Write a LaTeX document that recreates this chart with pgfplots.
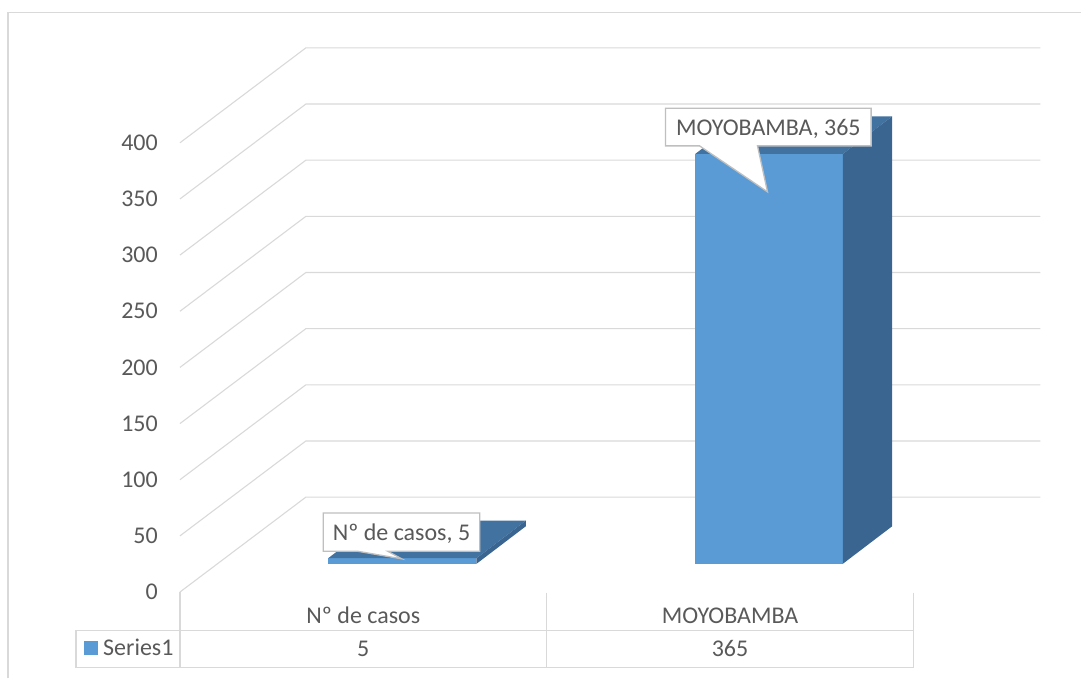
\documentclass[border=0pt]{standalone}
\usepackage{pgfplots}
\pgfplotsset{compat=1.18}
\usepackage{fontspec}
\setmainfont{Carlito}
\definecolor{gridc}{HTML}{D9D9D9}
\definecolor{txt}{HTML}{595959}
\definecolor{frontc}{HTML}{5B9BD5}
\definecolor{topc}{HTML}{4172A0}
\definecolor{sidec}{HTML}{3A6590}
\definecolor{callc}{HTML}{BFBFBF}
\newcommand{\fs}{\fontsize{24}{29}\selectfont}
\begin{document}
\begin{tikzpicture}[font=\fs]
% ---------- value axis: walls, gridlines, bars ----------
\begin{axis}[
  at={(0,0)}, anchor=south west,
  width=1082pt, height=679pt, scale only axis,
  xmin=0, xmax=1082, ymin=-76.957, ymax=527.135,
  axis line style={draw=none},
  xtick=\empty, ytick={0,50,...,400},
  major tick length=0pt,
  /pgf/number format/assume math mode=true,
  yticklabel style={font=\fs, text=txt, anchor=east, inner sep=0pt, xshift=158pt},
  clip=false,
]
\pgfplotsinvokeforeach{0,50,...,400}{
  \draw[gridc, line width=1.1pt] (axis cs:180,#1) -- (axis cs:306,{#1+84.5}) -- (axis cs:1041,{#1+84.5});
}
% bar 1: Nº de casos = 5
\addplot[fill=frontc, draw=none, mark=none] table[row sep=\\, x expr=\thisrow{x}+49.4*\thisrow{d}, y expr=\thisrow{v}+25.09+33.45*\thisrow{d}]
  {x v d\\ 328.3 0 0\\ 476.7 0 0\\ 476.7 5 0\\ 328.3 5 0\\} -- cycle;
\addplot[fill=topc, draw=none, mark=none] table[row sep=\\, x expr=\thisrow{x}+49.4*\thisrow{d}, y expr=\thisrow{v}+25.09+33.45*\thisrow{d}]
  {x v d\\ 328.3 5 0\\ 476.7 5 0\\ 476.7 5 1\\ 328.3 5 1\\} -- cycle;
\addplot[fill=sidec, draw=none, mark=none] table[row sep=\\, x expr=\thisrow{x}+49.4*\thisrow{d}, y expr=\thisrow{v}+25.09+33.45*\thisrow{d}]
  {x v d\\ 476.7 0 0\\ 476.7 5 0\\ 476.7 5 1\\ 476.7 0 1\\} -- cycle;
% bar 2: MOYOBAMBA = 365
\addplot[fill=frontc, draw=none, mark=none] table[row sep=\\, x expr=\thisrow{x}+49.4*\thisrow{d}, y expr=\thisrow{v}+25.09+33.45*\thisrow{d}]
  {x v d\\ 695.7 0 0\\ 843.3 0 0\\ 843.3 365 0\\ 695.7 365 0\\} -- cycle;
\addplot[fill=topc, draw=none, mark=none] table[row sep=\\, x expr=\thisrow{x}+49.4*\thisrow{d}, y expr=\thisrow{v}+25.09+33.45*\thisrow{d}]
  {x v d\\ 695.7 365 0\\ 843.3 365 0\\ 843.3 365 1\\ 695.7 365 1\\} -- cycle;
\addplot[fill=sidec, draw=none, mark=none] table[row sep=\\, x expr=\thisrow{x}+49.4*\thisrow{d}, y expr=\thisrow{v}+25.09+33.45*\thisrow{d}]
  {x v d\\ 843.3 0 0\\ 843.3 365 0\\ 843.3 365 1\\ 843.3 0 1\\} -- cycle;
\end{axis}
% ---------- pixel axis: frame, data table, labels ----------
\begin{axis}[
  at={(0,0)}, anchor=south west,
  width=1082pt, height=679pt, scale only axis,
  xmin=0, xmax=1082, ymin=0, ymax=679, y dir=reverse,
  hide axis, clip=false,
]
\draw[gridc, line width=1.5pt] (axis cs:8,679) -- (axis cs:8,12.5) -- (axis cs:1082,12.5);
% data table
\draw[gridc, line width=1.3pt] (axis cs:76,631) rectangle (axis cs:914,668);
\draw[gridc, line width=1.3pt] (axis cs:180,592.5) -- (axis cs:180,668);
\draw[gridc, line width=1.3pt] (axis cs:547,593) -- (axis cs:547,668);
\draw[gridc, line width=1.3pt] (axis cs:914,593) -- (axis cs:914,668);
\node[text=txt, anchor=base] at (axis cs:363.5,624) {Nº de casos};
\node[text=txt, anchor=base] at (axis cs:730.5,624) {MOYOBAMBA};
\node[text=txt, anchor=base] at (axis cs:363.5,657) {5};
\node[text=txt, anchor=base] at (axis cs:730.5,657) {365};
\fill[frontc] (axis cs:84,641.7) rectangle (axis cs:97.7,655.7);
\node[text=txt, anchor=base west, inner sep=0pt] at (axis cs:103,656) {Series1};
% data label callouts
\draw[fill=white, draw=callc, line width=1.3pt] (axis cs:323.3,513.3) -- (axis cs:480,513.3) -- (axis cs:480,551.7) -- (axis cs:388,551.7) -- (axis cs:402,559.3) -- (axis cs:358,551.7) -- (axis cs:323.3,551.7) -- cycle;
\node[text=txt, anchor=base] at (axis cs:401.7,541) {Nº de casos, 5};
\draw[fill=white, draw=callc, line width=1.3pt] (axis cs:666,108.3) -- (axis cs:871.7,108.3) -- (axis cs:871.7,146) -- (axis cs:758,146) -- (axis cs:768,192) -- (axis cs:700,146) -- (axis cs:666,146) -- cycle;
\node[text=txt, anchor=base] at (axis cs:768.9,136) {MOYOBAMBA, 365};
\end{axis}
\end{tikzpicture}
\end{document}
